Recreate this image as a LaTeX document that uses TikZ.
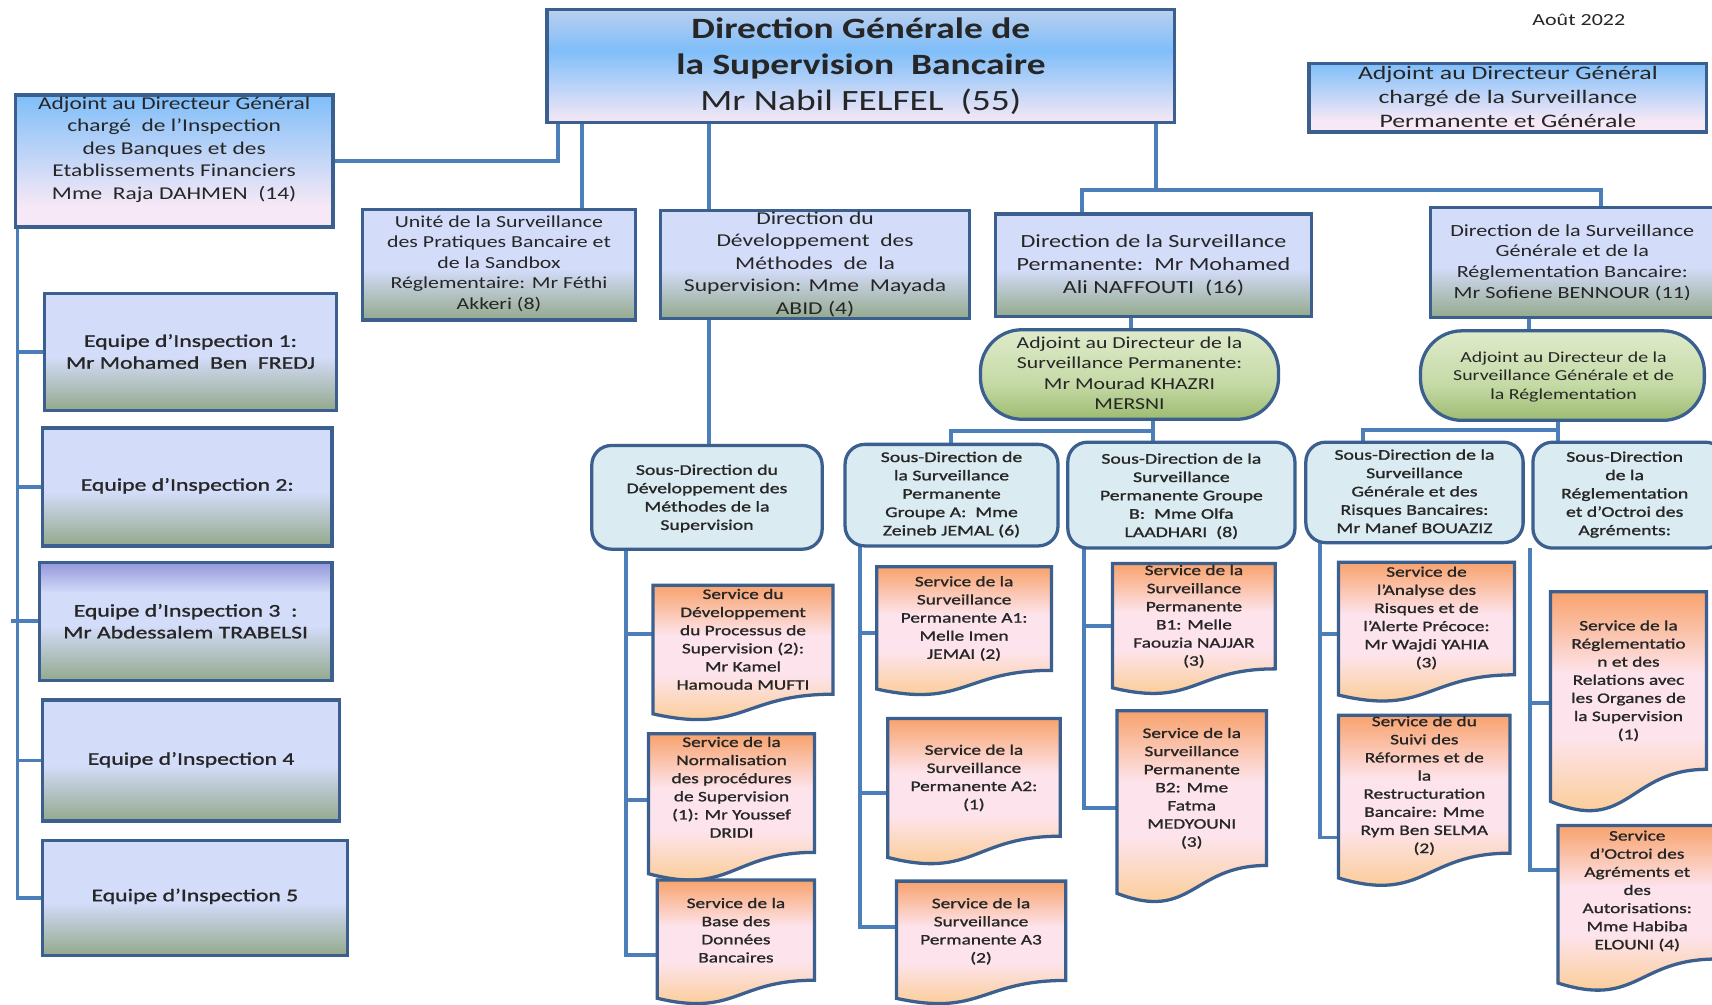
\documentclass[tikz,border=0pt]{standalone}
\usepackage{fontspec}
\setmainfont{Carlito}
\newfontfamily\titleface{Carlito}[FakeStretch=1.27]
\newfontfamily\plainface{Carlito}[FakeStretch=1.3]
\newfontfamily\wideface{Carlito}[FakeStretch=1.35]
\newfontfamily\heavyface{Carlito}[FakeStretch=1.33,FakeBold=1.2]
\usetikzlibrary{calc}

\definecolor{ink}{HTML}{262626}
\definecolor{edge}{HTML}{3B5F8E}
\definecolor{wire}{HTML}{4C7EBA}
\definecolor{lav}{HTML}{D3DCF9}
\definecolor{sage}{HTML}{93A98C}
\definecolor{violet}{HTML}{9397DA}
\definecolor{steel}{HTML}{B9CFEF}
\definecolor{sky}{HTML}{7FBEF9}
\definecolor{blush}{HTML}{F6E8F6}
\definecolor{aqua}{HTML}{DAEBF1}
\definecolor{leaftop}{HTML}{DFEBCB}
\definecolor{leafmid}{HTML}{C5DAA6}
\definecolor{leafbot}{HTML}{9DBB70}
\definecolor{peach}{HTML}{F8A26C}
\definecolor{rosy}{HTML}{FDE4EC}
\definecolor{apricot}{HTML}{FBC680}

% vertical shadings: 25bp = bottom of the path, 75bp = top
\pgfdeclareverticalshading{deskshade}{100bp}{color(0bp)=(sage); color(25bp)=(sage); color(48bp)=(lav); color(100bp)=(lav)}
\pgfdeclareverticalshading{teamthree}{100bp}{color(0bp)=(sage); color(25bp)=(sage); color(48bp)=(lav); color(62bp)=(lav); color(75bp)=(violet); color(100bp)=(violet)}
\pgfdeclareverticalshading{headshade}{100bp}{color(0bp)=(blush); color(25bp)=(blush); color(57bp)=(sky); color(75bp)=(steel); color(100bp)=(steel)}
\pgfdeclareverticalshading{skyshade}{100bp}{color(0bp)=(blush); color(25bp)=(blush); color(33bp)=(blush); color(75bp)=(sky); color(100bp)=(sky)}
\pgfdeclareverticalshading{leafshade}{100bp}{color(0bp)=(leafbot); color(25bp)=(leafbot); color(45bp)=(leafmid); color(75bp)=(leaftop); color(100bp)=(leaftop)}
\pgfdeclareverticalshading{sheetshade}{100bp}{color(0bp)=(apricot); color(25bp)=(apricot); color(45bp)=(rosy); color(58bp)=(rosy); color(75bp)=(peach); color(100bp)=(peach)}

\pgfdeclarelayer{paper}
\pgfdeclarelayer{wires}
\pgfsetlayers{paper,wires,main}

\tikzset{
  every node/.style={inner sep=0pt, outer sep=0pt, text=ink},
  frame/.style={draw=edge, line width=3pt},
  wire/.style={draw=wire, line width=3.5pt},
  headbox/.style={frame, shade, shading=headshade},
  skybox/.style={frame, shade, shading=skyshade},
  deskbox/.style={frame, shade, shading=deskshade},
  teambox/.style={frame, shade, shading=deskshade},
  teamthreebox/.style={frame, shade, shading=teamthree},
  leafbox/.style={frame, shade, shading=leafshade, rounded corners=38pt},
  subbox/.style={frame, fill=aqua, rounded corners=18pt},
  sheetarea/.style={},
  sheetpaint/.style={frame, shade, shading=sheetshade},
  headtext/.style={align=center, font=\titleface\fontsize{27}{33}\selectfont},
  datetext/.style={font=\plainface\fontsize{15.5}{18}\selectfont},
  desktext/.style 2 args={align=center, font=\plainface\fontsize{#1}{#2}\selectfont},
  deputytext/.style 2 args={align=center, font=\wideface\fontsize{#1}{#2}\selectfont},
  teamtext/.style={align=center, font=\heavyface\fontsize{16.3}{20}\selectfont},
  subtext/.style={align=center, font=\heavyface\fontsize{13.6}{16.8}\selectfont},
  sheettext/.style={align=center, font=\heavyface\fontsize{13.3}{16.6}\selectfont},
}

% rectangular unit: style, name, left, top, right, bottom
\newcommand\panel[6]{%
  \node[#1, minimum width={#5-#3}, minimum height={#6-#4}] (#2) at ({(#3+#5)/2},{(#4+#6)/2}) {};}

% service sheet with a wavy lower edge: name, left, top, right, lowest point
\newcommand\sheet[5]{%
  \node[sheetarea, minimum width={#4-#2}, minimum height={#5-#3}] (#1) at ({(#2+#4)/2},{(#3+#5)/2}) {};
  \path[sheetpaint] (#1.north west) -- (#1.north east)
    -- ($(#1.north east)!0.805!(#1.south east)$)
    .. controls ($(#1.north)!0.805!(#1.south)$) and ($(#1.north)!1.1!(#1.south)$)
    .. ($(#1.north west)!0.95!(#1.south west)$) -- cycle;}

\begin{document}
\begin{tikzpicture}[x=1pt,y=-1pt]
\useasboundingbox (0,0) rectangle (1568,920);
\begin{pgfonlayer}{paper}
\fill[white] (0,0) rectangle (1568,920);
\end{pgfonlayer}

\node[datetext] (date) at (1446,18) {Août 2022};

% general direction and deputies
\panel{headbox}{dg}{501}{9}{1076}{112}
\node[headtext] (dgt) at (788.5,61) {{\bfseries Direction Générale de}\\{\bfseries la Supervision\ \ Bancaire}\\Mr Nabil FELFEL\ \ (55)};

\panel{skybox}{adjL}{14}{87}{305}{208}
\node[desktext={16.5}{20.5}] (adjLt) at (159.5,137) {Adjoint au Directeur Général\\chargé\ \ de l’Inspection\\des Banques et des\\Etablissements Financiers\\Mme\ \ Raja DAHMEN\ \ (14)};

\panel{skybox}{adjR}{1199}{58}{1563}{121}
\node[deputytext={17.5}{22}] (adjRt) at (1381,89) {Adjoint au Directeur Général\\chargé de la Surveillance\\Permanente et Générale};

% directions
\panel{deskbox}{unite}{332}{192}{582}{293}
\node[desktext={15.4}{18.8}] (unitet) at (457,241.5) {Unité de la Surveillance\\des Pratiques Bancaire et\\de la Sandbox\\Réglementaire: Mr Féthi\\Akkeri (8)};

\panel{deskbox}{ddm}{605}{193}{888}{292}
\node[desktext={16.6}{20.5}] (ddmt) at (746.5,242) {Direction du\\Développement\ \ des\\Méthodes\ \ de\ \ la\\Supervision: Mme\ \ Mayada\\ABID (4)};

\panel{deskbox}{dsp}{912}{196}{1201}{290}
\node[desktext={17}{21}] (dspt) at (1056.5,243) {Direction de la Surveillance\\Permanente:\ \ Mr Mohamed\\Ali NAFFOUTI\ \ (16)};

\panel{deskbox}{dsg}{1310}{190}{1576}{291}
\node[desktext={15.6}{19}] (dsgt) at (1440,240.5) {Direction de la Surveillance\\Générale et de la\\Réglementation Bancaire:\\Mr Sofiene BENNOUR (11)};

% inspection teams
\panel{teambox}{e1}{41}{269}{308}{376}
\node[teamtext] (e1t) at (174.5,322) {Equipe d’Inspection 1:\\Mr Mohamed\ \ Ben\ \ FREDJ};
\panel{teambox}{e2}{39}{392}{304}{500}
\node[teamtext] (e2t) at (171.5,445) {Equipe d’Inspection 2:};
\panel{teamthreebox}{e3}{36}{515}{304}{623}
\node[teamtext] (e3t) at (170,569) {Equipe d’Inspection 3\ \ :\\Mr Abdessalem TRABELSI};
\panel{teambox}{e4}{39}{641}{311}{752}
\node[teamtext] (e4t) at (175,696) {Equipe d’Inspection 4};
\panel{teambox}{e5}{39}{770}{318}{875}
\node[teamtext] (e5t) at (178.5,821) {Equipe d’Inspection 5};

% deputy directors
\panel{leafbox}{adjP}{898}{302}{1171}{384}
\node[desktext={15.3}{18.7}] (adjPt) at (1034.5,342) {Adjoint au Directeur de la\\Surveillance Permanente:\\Mr Mourad KHAZRI\\MERSNI};
\panel{leafbox}{adjG}{1301}{303}{1561}{385}
\node[desktext={14}{17}] (adjGt) at (1432,345) {Adjoint au Directeur de la\\Surveillance Générale et de\\la Réglementation};

% sub-directions
\panel{subbox}{sdd}{542}{408}{753}{503}
\node[subtext] (sddt) at (647.5,456.5) {Sous-Direction du\\Développement des\\Méthodes de la\\Supervision};
\panel{subbox}{sda}{774}{407}{969}{500}
\node[subtext] (sdat) at (871.5,453) {Sous-Direction de\\la Surveillance\\Permanente\\Groupe A:\ \ Mme\\Zeineb JEMAL (6)};
\panel{subbox}{sdb}{978}{405}{1186}{502}
\node[subtext] (sdbt) at (1082,454.5) {Sous-Direction de la\\Surveillance\\Permanente Groupe\\B:\ \ Mme Olfa\\LAADHARI\ \ (8)};
\panel{subbox}{sdg}{1196}{405}{1395}{497}
\node[subtext] (sdgt) at (1295.5,450) {Sous-Direction de la\\Surveillance\\Générale et des\\Risques Bancaires:\\Mr Manef BOUAZIZ};
\panel{subbox}{sdr}{1404}{405}{1580}{502}
\node[subtext] (sdrt) at (1488,453) {Sous-Direction\\de la\\Réglementation\\et d’Octroi des\\Agréments:};

% services
\sheet{sd1}{598}{536}{763}{660}
\node[sheettext] (sd1t) at (680.5,585.5) {Service du\\Développement\\du Processus de\\Supervision (2):\\Mr Kamel\\Hamouda MUFTI};
\sheet{sd2}{594}{672}{746}{807}
\node[sheettext] (sd2t) at (670,721) {Service de la\\Normalisation\\des procédures\\de Supervision\\(1): Mr Youssef\\DRIDI};
\sheet{sd3}{602}{806}{746}{920}
\node[sheettext] (sd3t) at (674,852) {Service de la\\Base des\\Données\\Bancaires};

\sheet{sa1}{803}{519}{963}{637}
\node[sheettext] (sa1t) at (883,566.5) {Service de la\\Surveillance\\Permanente A1:\\Melle Imen\\JEMAI (2)};
\sheet{sa2}{813}{658}{971}{792}
\node[sheettext] (sa2t) at (892,712.5) {Service de la\\Surveillance\\Permanente A2:\\(1)};
\sheet{sa3}{821}{807}{976}{920}
\node[sheettext] (sa3t) at (898.5,853) {Service de la\\Surveillance\\Permanente A3\\(2)};

\sheet{sb1}{1019}{516}{1168}{636}
\node[sheettext] (sb1t) at (1093.5,564.5) {Service de la\\Surveillance\\Permanente\\B1: Melle\\Faouzia NAJJAR\\(3)};
\sheet{sb2}{1023}{651}{1160}{827}
\node[sheettext] (sb2t) at (1091.5,722) {Service de la\\Surveillance\\Permanente\\B2: Mme\\Fatma\\MEDYOUNI\\(3)};

\sheet{sg1}{1226}{515}{1387}{643}
\node[sheettext] (sg1t) at (1306.5,566) {Service de\\l’Analyse des\\Risques et de\\l’Alerte Précoce:\\Mr Wajdi YAHIA\\(3)};
\sheet{sg2}{1226}{655}{1383}{812}
\node[sheettext] (sg2t) at (1304.5,719.5) {Service de du\\Suivi des\\Réformes et de\\la\\Restructuration\\Bancaire: Mme\\Rym Ben SELMA\\(2)};

\sheet{sr1}{1420}{542}{1563}{744}
\node[sheettext] (sr1t) at (1491.5,623.5) {Service de la\\Réglementatio\\n et des\\Relations avec\\les Organes de\\la Supervision\\(1)};
\sheet{sr2}{1427}{756}{1572}{908}
\node[sheettext] (sr2t) at (1499.5,816) {Service\\d’Octroi des\\Agréments et\\des\\Autorisations:\\Mme Habiba\\ELOUNI (4)};

% connectors, kept behind the boxes
\begin{pgfonlayer}{wires}
\draw[wire] (dg.south -| 511,0) |- (adjL.east);
\draw[wire] (dg.south -| 533,0) -- (unite.north -| 533,0);
\draw[wire] (dg.south -| 649,0) -- (ddm.north -| 649,0);
\draw[wire] (dg.south -| 1059,0) -- (1059,174);
\draw[wire] (dsp.north -| 991,0) |- (1466,174) -- (dsg.north -| 1466,0);
\draw[wire] (dsp.south -| 1036,0) -- (adjP.north -| 1036,0);
\draw[wire] (dsg.south -| 1400,0) -- (adjG.north -| 1400,0);
\draw[wire] (ddm.south -| 649,0) -- (sdd.north -| 649,0);
\draw[wire] (adjP.south -| 1056,0) -- (sdb.north -| 1056,0);
\draw[wire] (1056,395) -| (sda.north -| 871,0);
\draw[wire] (adjG.south -| 1427,0) -- (sdr.north -| 1427,0);
\draw[wire] (1427,394) -| (sdg.north -| 1248,0);

% inspection teams
\coordinate (ibus) at (16,822.5);
\draw[wire] (adjL.south -| ibus) -- (ibus) -- (e5.west);
\draw[wire] (ibus |- e1.west) -- (e1.west);
\draw[wire] (ibus |- e2.west) -- (e2.west);
\draw[wire] (10,569) -- (e3.west);
\draw[wire] (ibus |- e4.west) -- (e4.west);

% methods services
\coordinate (dbus) at (573,875);
\draw[wire] (sdd.south -| dbus) -- (dbus) -- (sd3.west |- dbus);
\draw[wire] (dbus |- 0,581) -- (sd1.west |- 0,581);
\draw[wire] (dbus |- 0,733) -- (sd2.west |- 0,733);

% group A services
\coordinate (abus) at (788,849);
\draw[wire] (sda.south -| abus) -- (abus) -- (sa3.west |- abus);
\draw[wire] (abus |- 0,580) -- (sa1.west |- 0,580);
\draw[wire] (abus |- 0,726) -- (sa2.west |- 0,726);

% group B services
\coordinate (bbus) at (993,740);
\draw[wire] (sdb.south -| bbus) -- (bbus) -- (sb2.west |- bbus);
\draw[wire] (bbus |- 0,573) -- (sb1.west |- 0,573);

% general supervision services
\coordinate (gbus) at (1209,767);
\draw[wire] (sdg.south -| gbus) -- (gbus) -- (sg2.west |- gbus);
\draw[wire] (gbus |- 0,581) -- (sg1.west |- 0,581);

% regulation services
\coordinate (rbus) at (1401,797);
\draw[wire] (sdr.south -| rbus) -- (rbus) -- (sr2.west |- rbus);
\draw[wire] (rbus |- 0,644) -- (sr1.west |- 0,644);
\end{pgfonlayer}
\end{tikzpicture}
\end{document}
